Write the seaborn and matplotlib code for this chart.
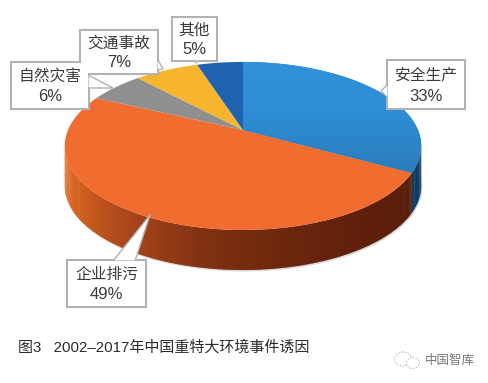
import matplotlib
matplotlib.use("Agg")
import matplotlib.pyplot as plt
from matplotlib.colors import ListedColormap
from matplotlib.patches import Ellipse, Polygon
import numpy as np
import seaborn as sns

sns.set_theme(style="white")
plt.rcParams['font.family'] = ['Liberation Sans', 'Noto Sans CJK SC']

categories = ['安全生产', '企业排污', '自然灾害', '交通事故', '其他']
shares = [33, 49, 6, 7, 5]
top_colors = ['#2E8AD0', '#F06D2F', '#8F8F8F', '#F7B52E', '#1F63AE']
caption = '图3   2002–2017年中国重特大环境事件诱因'
watermark = '中国智库'

# callout boxes: x0, y0, x1, y1 and the pointer polygon, in pixels
boxes = [
    (387, 60, 465, 109),
    (67, 260, 146, 307),
    (11, 62, 89, 109),
    (80, 30, 158, 74),
    (172, 17, 217, 61),
]
pointers = [
    [(388, 84), (381, 91), (388, 98)],
    [(113, 261), (150, 215), (135, 261)],
    [(88, 75), (113, 88), (88, 88)],
    [(157, 58), (163, 69), (157, 70)],
    [(195, 60), (196, 63), (200, 60)],
]

CX, CY = 243, 130
A, B, K = 175, 81, 0.19
DEPTH = 40


def rim(theta):
    # perspective view of a circle, theta clockwise from the top, degrees
    t = np.radians(theta)
    u, v = np.sin(t), np.cos(t)
    return CX + A * u / (1 + K * v), CY - B * v / (1 + K * v)


fig = plt.figure(figsize=(4.88, 3.83), dpi=100)
ax = fig.add_axes([0, 0, 1, 1])

edges = np.concatenate([[0], np.cumsum(shares)]) * 3.6
vis_start, vis_end = 101, 259

# faint shadow under the side wall
th = np.linspace(vis_start, vis_end, 100)
x, y = rim(th)
ax.fill(np.r_[x + 1, (x - 1)[::-1]], np.r_[y + DEPTH + 1.5, (y + 20)[::-1]], color='#d6d6d6', lw=0, zorder=1)

# side wall, thin quads shaded along the rim
blue_side = sns.blend_palette(['#0B3352', '#0D4068'], 12)
orange_side = sns.blend_palette(['#5A1E0A', '#5E1F0B', '#6A250D', '#7E3010', '#A8451A', '#D0601F', '#E8742F'], 150)
for a0, a1, pal in [(vis_start, edges[1], blue_side), (edges[1], vis_end, orange_side)]:
    steps = np.linspace(a0, a1, len(pal) + 1)
    for i, c in enumerate(pal):
        xs, ys = rim(np.linspace(steps[i], steps[i + 1] + 0.4, 4))
        ax.fill(np.r_[xs, xs[::-1]], np.r_[ys, ys[::-1] + DEPTH], color=c, lw=0, zorder=2)

# top face
for i, name in enumerate(categories):
    xs, ys = rim(np.linspace(edges[i], edges[i + 1], 80))
    pts = np.c_[np.r_[CX, xs], np.r_[CY, ys]]
    patch = Polygon(pts, closed=True, fc=top_colors[i], ec='none', zorder=3)
    ax.add_patch(patch)
    if name == '安全生产':
        grad = ListedColormap(sns.blend_palette(['#3192DA', '#2E8CD2', '#2A7AB9'], 64))
        im = ax.imshow(np.linspace(0, 1, 64)[:, None], cmap=grad, extent=(230, 425, 178, 60),
                       aspect='auto', zorder=3.1)
        im.set_clip_path(patch)

# callouts
for (x0, y0, x1, y1), tip, name, share in zip(boxes, pointers, categories, shares):
    ax.fill([x0, x1, x1, x0], [y0, y0, y1, y1], fc='white', ec='#B2B2B2', lw=1.5, zorder=4)
    ax.add_patch(Polygon(tip, closed=True, fc='white', ec='#B2B2B2', lw=1.0, zorder=4.1))
    ax.fill([x0 + 1, x1 - 1, x1 - 1, x0 + 1], [y0 + 1, y0 + 1, y1 - 1, y1 - 1], fc='white', lw=0, zorder=4.2)
    xc = (x0 + x1) / 2
    ax.text(xc, y0 + (y1 - y0) * 0.30, name, ha='center', va='center', fontsize=11.3, color='#3a3a3a', zorder=5)
    ax.text(xc, y0 + (y1 - y0) * 0.74, f'{share}%', ha='center', va='center', fontsize=12, color='#3a3a3a', zorder=5)

ax.text(18, 347, caption, ha='left', va='center', fontsize=10.8, color='#2b2b2b')

# watermark with its little chat icon
ax.add_patch(Ellipse((403, 359), 17, 14, fc='none', ec='#aaaaaa', lw=0.8, ls=':'))
ax.add_patch(Ellipse((413, 363), 13, 11, fc='white', ec='#aaaaaa', lw=0.8, ls=':'))
ax.text(425, 361, watermark, ha='left', va='center', fontsize=9, color='#777777')

ax.set_xlim(0, 488)
ax.set_ylim(383, 0)
ax.axis('off')
fig.savefig('out.png', dpi=100, facecolor='white')
